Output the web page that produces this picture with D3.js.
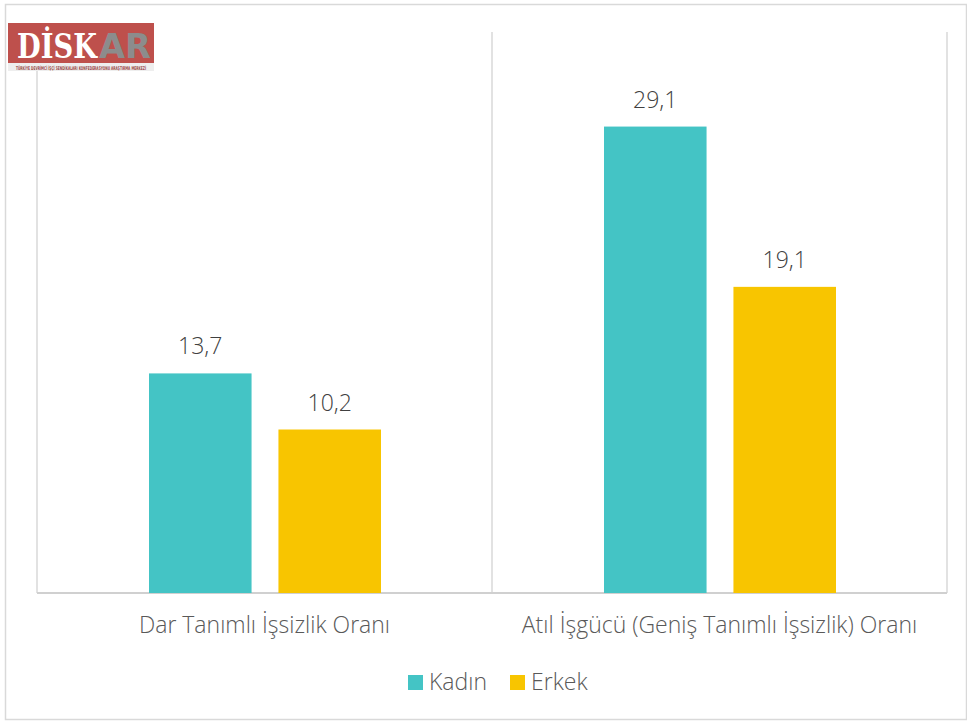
<!DOCTYPE html>
<html lang="tr">
<head>
<meta charset="utf-8" />
<script src="https://cdnjs.cloudflare.com/ajax/libs/d3/7.8.5/d3.min.js"></script>
<style>
  body { margin: 0; background: #fff; }
  svg text { font-family: 'Open Sans', 'Lato', sans-serif; font-weight: 300; }
</style>
</head>
<body>
<div id="chart"></div>
<script>
// chart data
var categories = ['Dar Tanımlı İşsizlik Oranı', 'Atıl İşgücü (Geniş Tanımlı İşsizlik) Oranı'];
var seriesNames = ['Kadın', 'Erkek'];
var kadin = [13.7, 29.1];
var erkek = [10.2, 19.1];
var colors = ['#44c4c5', '#f8c500'];

var width = 967, height = 722;
var margins = { top: 32, left: 37, right: 20, bottom: 129 };
var innerWidth = width - margins.left - margins.right;
var innerHeight = height - margins.top - margins.bottom;

var svg = d3.select('#chart').append('svg')
    .attr('width', width)
    .attr('height', height);

// outer frame
svg.append('rect')
    .attr('x', 5.5).attr('y', 4.5)
    .attr('width', 961).attr('height', 715)
    .attr('fill', 'none')
    .attr('stroke', '#d9d9d9')
    .attr('stroke-width', 1.5);

var g = svg.append('g')
    .attr('transform', 'translate(' + margins.left + ',' + margins.top + ')');

var x0 = d3.scaleBand().domain(categories).range([0, 910]).padding(0);
var x1 = d3.scaleBand().domain(seriesNames)
    .range([112, 112 + 232]).paddingInner(27 / 130).paddingOuter(0);
var y = d3.scaleLinear().domain([0, 35]).range([innerHeight, 0]);

// category separators
var seps = [0].concat(categories.map(function (c) { return x0(c) + x0.bandwidth(); }));
g.selectAll('line.sep').data(seps).enter().append('line')
    .attr('class', 'sep')
    .attr('x1', function (d) { return d; }).attr('x2', function (d) { return d; })
    .attr('y1', 0).attr('y2', innerHeight)
    .attr('stroke', '#d9d9d9').attr('stroke-width', 1.5);

// baseline
g.append('line')
    .attr('x1', 0).attr('x2', 910)
    .attr('y1', innerHeight).attr('y2', innerHeight)
    .attr('stroke', '#d0d0d0').attr('stroke-width', 2);

var rows = [];
categories.forEach(function (c, i) {
    rows.push({ cat: c, s: 'Kadın', v: kadin[i], col: colors[0] });
    rows.push({ cat: c, s: 'Erkek', v: erkek[i], col: colors[1] });
});

g.selectAll('rect.bar').data(rows).enter().append('rect')
    .attr('class', 'bar')
    .attr('x', function (d) { return x0(d.cat) + x1(d.s); })
    .attr('y', function (d) { return y(d.v); })
    .attr('width', x1.bandwidth())
    .attr('height', function (d) { return innerHeight - y(d.v); })
    .attr('fill', function (d) { return d.col; });

g.selectAll('text.val').data(rows).enter().append('text')
    .attr('class', 'val')
    .attr('x', function (d) { return x0(d.cat) + x1(d.s) + x1.bandwidth() / 2; })
    .attr('y', function (d) { return y(d.v) - 19; })
    .attr('text-anchor', 'middle')
    .attr('font-size', 23)
    .attr('fill', '#404040')
    .text(function (d) { return d3.format('.1f')(d.v).replace('.', ','); });

g.selectAll('text.cat').data(categories).enter().append('text')
    .attr('class', 'cat')
    .attr('x', function (d) { return x0(d) + x0.bandwidth() / 2; })
    .attr('y', innerHeight + 40)
    .attr('text-anchor', 'middle')
    .attr('font-size', 23)
    .attr('fill', '#595959')
    .text(function (d) { return d; });

// legend
var legend = svg.append('g').attr('transform', 'translate(408,675)');
var lx = [0, 102];
seriesNames.forEach(function (s, i) {
    var lg = legend.append('g').attr('transform', 'translate(' + lx[i] + ',0)');
    lg.append('rect').attr('width', 15).attr('height', 15).attr('fill', colors[i]);
    lg.append('text').attr('x', 21).attr('y', 15)
        .attr('font-size', 23).attr('fill', '#595959').text(s);
});

// DİSKAR logo
var logo = svg.append('g').attr('transform', 'translate(8,23)');
logo.append('rect').attr('width', 146).attr('height', 48).attr('fill', '#eeeeee');
logo.append('rect').attr('width', 146).attr('height', 40).attr('fill', '#be504c');
logo.append('text').attr('x', 9).attr('y', 35)
    .style('font-family', "'DejaVu Serif', serif").style('font-weight', 'bold')
    .attr('font-size', 34).attr('fill', '#fff')
    .attr('textLength', 80).attr('lengthAdjust', 'spacingAndGlyphs')
    .text('DİSK');
logo.append('text').attr('x', 91).attr('y', 35)
    .style('font-family', "'DejaVu Sans', sans-serif").style('font-weight', 'bold')
    .attr('font-size', 34).attr('fill', '#8c8c8c')
    .attr('textLength', 52).attr('lengthAdjust', 'spacingAndGlyphs')
    .text('AR');
logo.append('text').attr('x', 73).attr('y', 46.5)
    .attr('text-anchor', 'middle')
    .style('font-family', "'DejaVu Sans Condensed', sans-serif").style('font-weight', 'bold')
    .attr('font-size', 5).attr('fill', '#9a4a48')
    .attr('textLength', 130).attr('lengthAdjust', 'spacingAndGlyphs')
    .text('TÜRKİYE DEVRİMCİ İŞÇİ SENDİKALARI KONFEDERASYONU ARAŞTIRMA MERKEZİ');
</script>
</body>
</html>
